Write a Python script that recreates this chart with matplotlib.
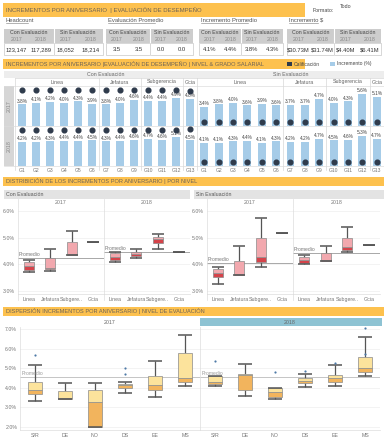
import matplotlib
matplotlib.use('Agg')
import matplotlib.pyplot as plt
from matplotlib.patches import Rectangle
import numpy as np

plt.rcParams['font.family'] = ['Liberation Sans Narrow', 'Liberation Sans', 'DejaVu Sans']

# ---- data ----
kpi_titles = ['Headcount', 'Evaluación Promedio', 'Incremento Promedio', 'Incremento $']
headcount = [123147, 117289, 18052, 18214]
eval_prom = [3.5, 3.5, 0.0, 0.0]
inc_prom = [4.1, 4.4, 3.8, 4.3]
inc_money = [30.73, 31.74, 4.40, 6.41]

grades = ['G1', 'G2', 'G3', 'G4', 'G5', 'G6', 'G7', 'G8', 'G9', 'G10', 'G11', 'G12', 'G13']
levels = ['Linea', 'Jefatura', 'Subgerencia', 'Gcia']
level_sizes = [6, 3, 3, 1]

con_2017_inc = [3.8, 4.1, 4.2, 4.0, 4.3, 3.9, 3.8, 4.0, 4.6, 4.4, 4.4, 4.9, 4.8]
con_2018_inc = [4.2, 4.2, 4.3, 4.4, 4.4, 4.5, 4.3, 4.4, 4.6, 4.7, 4.6, 5.1, 4.5]
sin_2017_inc = [3.4, 3.8, 4.0, 3.6, 3.9, 3.6, 3.7, 3.7, 4.7, 4.0, 4.3, 5.6, 5.1]
sin_2018_inc = [4.1, 4.1, 4.3, 4.4, 4.1, 4.3, 4.2, 4.2, 4.7, 4.5, 4.6, 5.3, 4.7]
con_2017_cal = [3.5, 3.5, 3.5, 3.5, 3.6, 3.5, 3.5, 3.5, 3.6, 3.5, 3.5, 3.5, 3.4]
con_2018_cal = [3.5, 3.5, 3.5, 3.5, 3.6, 3.6, 3.5, 3.6, 3.6, 3.6, 3.6, 3.6, 3.7]
sin_2017_cal = [0.0, 0.0, 0.0, 0.0, 0.0, 0.0, 0.0, 0.0, 0.0, 0.0, 0.0, 0.0, 0.0]
sin_2018_cal = [0.0, 0.0, 0.0, 0.0, 0.0, 0.0, 0.0, 0.0, 0.0, 0.0, 0.0, 0.0, 0.0]

level_labels = ['Linea', 'Jefatura', 'Subgere..', 'Gcia']
# (whisker low, q1, median, q3, whisker high)
con_2017_box = [(3.73, 3.80, 3.94, 4.08, 4.17), (3.76, 3.82, 3.88, 4.23, 4.57),
                (4.36, 4.36, 4.40, 4.82, 5.24), (4.85, 4.85, 4.85, 4.85, 4.85)]
con_2018_box = [(4.10, 4.17, 4.27, 4.41, 4.45), (4.24, 4.31, 4.39, 4.47, 4.59),
                (4.59, 4.79, 4.93, 5.03, 5.12), (4.45, 4.45, 4.45, 4.45, 4.45)]
sin_2017_box = [(3.26, 3.52, 3.69, 3.84, 3.92), (3.62, 3.62, 3.63, 4.14, 4.69),
                (3.92, 4.09, 4.27, 4.98, 5.72), (5.17, 5.17, 5.17, 5.17, 5.17)]
sin_2018_box = [(4.02, 4.07, 4.17, 4.27, 4.36), (4.14, 4.14, 4.16, 4.41, 4.69),
                (4.47, 4.54, 4.64, 5.00, 5.38), (4.74, 4.74, 4.74, 4.74, 4.74)]
con_prom = [4.23, 4.47]
sin_prom = [4.06, 4.41]

eval_levels = ['S/R', 'DE', 'NO', 'DS', 'EE', 'MS']
disp_2017_box = [(3.32, 3.70, 3.90, 4.30, 5.15), (3.45, 3.45, 3.47, 3.85, 4.23),
                 (2.02, 2.02, 3.27, 3.90, 4.23), (3.72, 3.98, 4.12, 4.20, 4.32),
                 (3.53, 3.88, 4.13, 4.58, 5.38), (4.07, 4.32, 4.48, 5.75, 6.70)]
disp_2018_box = [(4.08, 4.18, 4.32, 4.60, 4.60), (3.58, 3.90, 4.66, 4.68, 5.22),
                 (3.42, 3.52, 3.77, 3.97, 3.97), (4.02, 4.23, 4.35, 4.48, 4.72),
                 (4.10, 4.32, 4.48, 4.65, 5.15), (4.60, 4.80, 5.02, 5.55, 6.57)]
disp_2017_out_x = [0, 3, 3]
disp_2017_out_y = [5.68, 5.02, 4.68]
disp_2018_out_x = [0, 2, 3, 4, 5, 5]
disp_2018_out_y = [5.38, 4.80, 4.88, 5.25, 7.05, 5.73]
disp_prom = [4.55, 4.57]

# ---- style ----
ORANGE = '#FDC14E'
HEAD = '#CDCDCD'
DOT = '#2F3B4C'
W, H = 384, 442

fig = plt.figure(figsize=(W / 100, H / 100), dpi=100)
bg = fig.add_axes([0, 0, 1, 1])
bg.set_xlim(0, W)
bg.set_ylim(H, 0)
bg.axis('off')


def px_axes(x, y, w, h):
    return fig.add_axes([x / W, 1 - (y + h) / H, w / W, h / H])


def rect(x, y, w, h, color, **kw):
    bg.add_patch(Rectangle((x, y), w, h, facecolor=color, edgecolor=kw.pop('ec', 'none'),
                           lw=kw.pop('lw', 0.5), **kw))


def title_bar(x, y, w, h, text, size=4.1):
    rect(x, y, w, h, ORANGE)
    bg.text(x + 3, y + h / 2, text, fontsize=size, color='#6b6256', va='center', ha='left')


# ---- header + KPI tables ----
title_bar(3, 3, 302, 14, 'INCREMENTOS POR ANIVERSARIO  | EVALUACIÓN DE DESEMPEÑO', size=4.3)
bg.text(313, 11, 'Formato:', fontsize=3.8, color='#444', va='center')
bg.text(340, 6, 'Todo', fontsize=3.8, color='#444', va='center')

kpi_x = [(4, 103), (106, 193), (199, 283), (287, 381)]
kpi_vals = [[f'{v:,}' for v in headcount],
            [f'{v:.1f}' for v in eval_prom],
            [f'{v:.1f}%' for v in inc_prom],
            [f'${v:.2f}M' for v in inc_money]]
for (x0, x1), name, vals in zip(kpi_x, kpi_titles, kpi_vals):
    bg.text(x0 + 2, 20, name, fontsize=4.2, color='#555', va='center')
    tw = len(name) * 2.45
    bg.plot([x0 + 2, x0 + 2 + tw], [22.8, 22.8], color='#777', lw=0.4)
    w = x1 - x0
    rect(x0, 29, w, 14, HEAD)
    rect(x0, 43, w, 12, 'white', ec='#c8c8c8')
    bg.plot([x0 + w / 2] * 2, [29, 55], color='white', lw=0.8)
    bg.plot([x0 + w / 2] * 2, [43, 55], color='#c8c8c8', lw=0.5)
    for j, lab in enumerate(['Con Evaluación', 'Sin Evaluación']):
        cx = x0 + w / 4 + j * w / 2
        bg.text(cx, 32.5, lab, fontsize=3.8, color='#444', ha='center', va='center')
        for k, yr in enumerate(['2017', '2018']):
            xx = x0 + w / 8 + j * w / 2 + k * w / 4
            bg.text(xx, 39.5, yr, fontsize=3.8, color='#888', ha='center', va='center')
            bg.text(xx, 49.5, vals[j * 2 + k], fontsize=4.2, color='#333', ha='center', va='center')

# ---- bar chart section ----
title_bar(3, 59, 302, 10, 'INCREMENTOS POR ANIVERSARIO |EVALUACIÓN DE DESEMPEÑO | NIVEL & GRADO SALARIAL')
rect(287, 61.5, 4.5, 4.5, DOT)
bg.text(294, 64, 'Calificación', fontsize=3.6, color='#444', va='center')
rect(330, 61.5, 4.5, 4.5, '#A6CCE8')
bg.text(337, 64, 'Incremento (%)', fontsize=3.6, color='#444', va='center')

rect(4, 71, 380, 7, '#EDEDED')
rect(4, 86, 10, 80, '#D6D6D6')
bar_panels = [('Con Evaluación', 15, 182, [con_2017_inc, con_2018_inc], [con_2017_cal, con_2018_cal]),
              ('Sin Evaluación', 197, 187, [sin_2017_inc, sin_2018_inc], [sin_2017_cal, sin_2018_cal])]
row_top = [86, 126]
years = ['2017', '2018']
for r, yr in enumerate(years):
    bg.text(9, row_top[r] + 20, yr, fontsize=3.8, color='#888', rotation=90, ha='center', va='center')
    bg.plot([4, 384], [row_top[r], row_top[r]], color='#dddddd', lw=0.5)
bg.plot([4, 384], [166, 166], color='#dddddd', lw=0.5)

for name, x0, w, incs, cals in bar_panels:
    bg.text(x0 + w / 2, 74.5, name, fontsize=3.8, color='#666', ha='center', va='center')
    slot = w / len(grades)
    start = 0
    for lev, n in zip(levels, level_sizes):
        cx = x0 + (start + n / 2) * slot
        bg.text(cx, 82, lev, fontsize=3.8, color='#666', ha='center', va='center')
        bg.plot([x0 + start * slot] * 2, [78, 170], color='#d8d8d8', lw=0.5)
        start += n
    bg.plot([x0, x0 + w], [78, 78], color='#d8d8d8', lw=0.5)
    for i, g in enumerate(grades):
        bg.text(x0 + (i + 0.5) * slot, 170.5, g, fontsize=3.6, color='#777', ha='center', va='center')
    for r in range(2):
        ax = px_axes(x0, row_top[r], w, 40)
        ax.patch.set_alpha(0)
        x = np.arange(len(grades))
        ax.bar(x, incs[r], width=0.55, color='#A6CCE8', zorder=2)
        for xi, v in zip(x, incs[r]):
            ax.text(xi, v + 0.12, f'{v:.1f}%', ha='center', va='bottom', fontsize=3.4, color='#444', zorder=3)
        ax.set_xlim(-0.5, len(grades) - 0.5)
        ax.set_ylim(0, 7)
        ax.axis('off')
        ax2 = ax.twinx()
        ax2.plot(x, cals[r], 'o', ms=3.4, color=DOT, ls='none', zorder=4)
        ax2.set_xlim(-0.5, len(grades) - 0.5)
        ax2.set_ylim(-0.5, 4.0)
        ax2.axis('off')

# ---- distribution section ----
title_bar(3, 177, 381, 9, 'DISTRIBICIÓN DE LOS INCREMENTOS POR ANIVERSARIO | POR NIVEL')
rect(4, 190, 186, 9, '#E3E3E3')
rect(194, 190, 190, 9, '#E3E3E3')
bg.text(6, 194.5, 'Con Evaluación', fontsize=3.8, color='#555', va='center')
bg.text(196, 194.5, 'Sin Evaluación', fontsize=3.8, color='#555', va='center')


def draw_boxes(ax, stats, light, dark, bw, cw):
    for i, (lo, q1, med, q3, hi) in enumerate(stats):
        ax.vlines(i, lo, q1, color='#555', lw=0.9, zorder=2)
        ax.vlines(i, q3, hi, color='#555', lw=0.9, zorder=2)
        ax.bar(i, med - q1, bottom=q1, width=bw, color=dark, edgecolor='#8a8a8a', lw=0.5, zorder=3)
        ax.bar(i, q3 - med, bottom=med, width=bw, color=light, edgecolor='#8a8a8a', lw=0.5, zorder=3)
        ax.hlines([lo, hi], i - cw / 2, i + cw / 2, color='#555', lw=1.1, zorder=4)


def style_panel(ax, ylim, ticks, show_y, ncat):
    ax.set_xlim(-0.5, ncat - 0.5)
    ax.set_ylim(*ylim)
    ax.set_yticks(ticks)
    ax.grid(axis='y', color='#eeeeee', lw=0.5)
    ax.set_axisbelow(True)
    if show_y:
        ax.set_yticklabels([f'{t:.1f}%' for t in ticks])
    else:
        ax.set_yticklabels([])
    ax.tick_params(length=0, pad=2, labelsize=3.8, colors='#777')
    for s in ['top', 'right']:
        ax.spines[s].set_visible(False)
    for s in ['bottom', 'left']:
        ax.spines[s].set_color('#dddddd')
        ax.spines[s].set_linewidth(0.5)


dist_panels = [(18, 86, con_2017_box, con_prom[0], '2017', True),
               (104, 86, con_2018_box, con_prom[1], '2018', False),
               (207, 86, sin_2017_box, sin_prom[0], '2017', True),
               (293, 87, sin_2018_box, sin_prom[1], '2018', False)]
for x0, w, stats, prom, yr, show_y in dist_panels:
    bg.text(x0 + w / 2, 203, yr, fontsize=3.8, color='#777', ha='center', va='center')
    bg.plot([x0, x0], [199, 300], color='#dddddd', lw=0.5)
    ax = px_axes(x0, 208, w, 86)
    draw_boxes(ax, stats, '#F2A8AE', '#D5434A', 0.47, 0.55)
    ax.axhline(prom, color='#9a9a9a', lw=0.6, zorder=1)
    ax.text(-0.48, prom + 0.04, 'Promedio', fontsize=3.6, color='#777', va='bottom', zorder=5)
    style_panel(ax, (2.9, 6.1), [3, 4, 5, 6], show_y, 4)
    ax.set_xticks(range(4))
    ax.set_xticklabels(level_labels)

# ---- dispersion section ----
title_bar(3, 307, 381, 9, 'DISPERSIÓN INCREMENTOS POR ANIVERSARIO | NIVEL DE EVALUACIÓN')
rect(200, 318, 182, 8, '#8EC3D3')
disp_panels = [(20, disp_2017_box, disp_2017_out_x, disp_2017_out_y, disp_prom[0], '2017', True),
               (200, disp_2018_box, disp_2018_out_x, disp_2018_out_y, disp_prom[1], '2018', False)]
for x0, stats, ox, oy, prom, yr, show_y in disp_panels:
    bg.text(x0 + 90, 322, yr, fontsize=3.8, color='#666', ha='center', va='center')
    ax = px_axes(x0, 327, 180, 103)
    draw_boxes(ax, stats, '#FCE39C', '#F2B45D', 0.48, 0.48)
    ax.scatter(ox, oy, s=2.5, color='#4E79A7', zorder=5, linewidths=0)
    ax.axhline(prom, color='#bbbbbb', lw=0.6, zorder=1)
    ax.text(-0.45, prom + 0.04, 'Promedio', fontsize=3.6, color='#999', va='bottom', zorder=5)
    style_panel(ax, (1.85, 7.1), [2, 3, 4, 5, 6, 7], show_y, 6)
    ax.set_xticks(range(6))
    ax.set_xticklabels(eval_levels)

fig.savefig('out.png', dpi=100)
